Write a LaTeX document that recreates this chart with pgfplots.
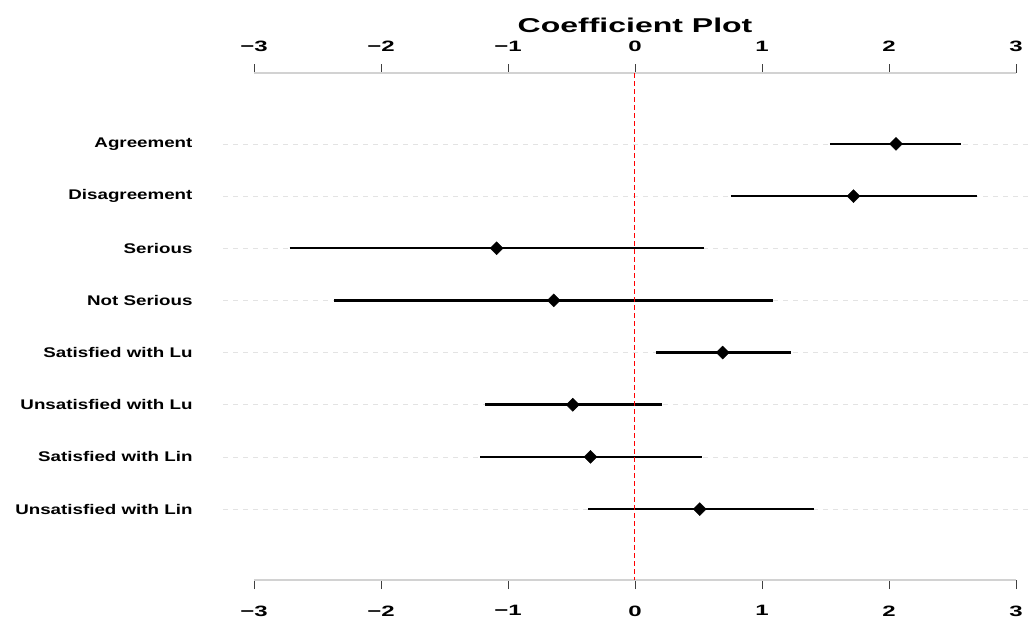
\documentclass[border=0pt]{standalone}
\usepackage{pgfplots}
\pgfplotsset{compat=1.18}
\usepackage{fontspec}
\setmainfont{Liberation Sans}
\newfontfamily\rowfont[FakeStretch=1.34]{Liberation Sans Bold}
\newfontfamily\tickfont[FakeStretch=1.6]{Liberation Sans Bold}
\newfontfamily\titlefont[FakeStretch=1.6]{Liberation Sans Bold}
\begin{document}
\begin{tikzpicture}
\useasboundingbox (0,0) rectangle (1033pt,619pt);
\begin{axis}[
  at={(223pt,39pt)}, anchor=south west,
  scale only axis, width=809.5pt, height=507pt,
  xmin=-3.244, xmax=3.130, ymin=-0.36, ymax=9.36, y dir=reverse,
  axis line style={draw=none},
  xtick={-3,-2,-1,0,1,2,3}, xticklabels={−3,−2,−1,0,1,2,3},
  xtick pos=both, xticklabel pos=lower,
  tick align=outside, major tick length=9pt,
  xtick style={black!75, line width=0.6pt},
  ytick={1,2,3,4,5,6,7,8},
  yticklabels={Agreement,Disagreement,Serious,Not Serious,Satisfied with Lu,Unsatisfied with Lu,Satisfied with Lin,Unsatisfied with Lin},
  ytick style={draw=none},
  ymajorgrids, grid style={gray!22, dash pattern=on 5pt off 5pt, line width=0.8pt},
  xticklabel style={font=\tickfont\fontsize{15}{15}\selectfont, yshift=-13pt},
  yticklabel style={font=\rowfont\fontsize{14}{16}\selectfont, xshift=-18pt},
  clip=false,
]
\addplot[gray!35, line width=1.3pt] coordinates {(-3,-0.36) (3,-0.36)};
\addplot[gray!35, line width=1.3pt] coordinates {(-3,9.36) (3,9.36)};
\addplot[black, line width=2.7pt] coordinates {(1.535,1) (2.57,1)};
\addplot[black, line width=2.7pt] coordinates {(0.755,2) (2.69,2)};
\addplot[black, line width=1.9pt] coordinates {(-2.72,3) (0.54,3)};
\addplot[black, line width=2.7pt] coordinates {(-2.37,4) (1.09,4)};
\addplot[black, line width=2.4pt] coordinates {(0.165,5) (1.23,5)};
\addplot[black, line width=2.7pt] coordinates {(-1.18,6) (0.21,6)};
\addplot[black, line width=1.9pt] coordinates {(-1.22,7) (0.53,7)};
\addplot[black, line width=2.7pt] coordinates {(-0.37,8) (1.41,8)};
\addplot[color=red, dash pattern=on 5pt off 3pt, line width=1pt] coordinates {(0,-0.36) (0,9.36)};
\addplot[only marks, mark=square*, mark size=4.6pt, mark options={rotate=45, black, fill=black}] coordinates {(2.055,1) (1.72,2) (-1.09,3) (-0.64,4) (0.69,5) (-0.49,6) (-0.35,7) (0.51,8)};
\end{axis}
\begin{axis}[
  at={(223pt,39pt)}, anchor=south west,
  scale only axis, width=809.5pt, height=507pt,
  xmin=-3.244, xmax=3.130, ymin=-0.36, ymax=9.36,
  axis line style={draw=none},
  xtick={-3,-2,-1,0,1,2,3}, xticklabels={−3,−2,−1,0,1,2,3},
  xtick pos=upper, xticklabel pos=upper,
  major tick length=0pt, xtick style={draw=none},
  ytick=\empty,
  xticklabel style={font=\tickfont\fontsize{15}{15}\selectfont, yshift=18pt},
  title={Coefficient Plot},
  title style={at={(0.509,1)}, anchor=center, yshift=42pt, font=\titlefont\fontsize{20}{20}\selectfont},
]
\end{axis}
\end{tikzpicture}
\end{document}
